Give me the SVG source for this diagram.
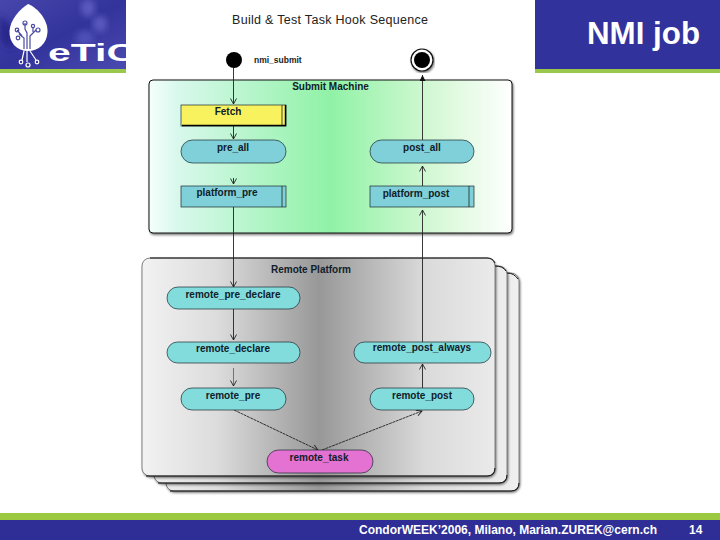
<svg xmlns="http://www.w3.org/2000/svg" width="720" height="540" viewBox="0 0 720 540">
<style>
text{font-family:"Liberation Sans",Arial,sans-serif}
.lbl{font-size:10px;font-weight:bold;fill:#10202a;text-anchor:middle}
.node{stroke:#1a2a30;stroke-width:.7}
.teal{fill:#7fd0d8}
.aqua{fill:#82dcdc}
.conn{fill:none;stroke:#222;stroke-width:.9}
.sheet{fill:url(#greyG);stroke:#555;stroke-width:.7;filter:url(#sh)}
.edge{fill:none;stroke:#111;stroke-width:1}
.ckt{fill:none;stroke:#4a4aa0;stroke-width:1.2}
.cktw{fill:none;stroke:#fff;stroke-width:1.2}
</style>
<defs>
<linearGradient id="hdr" x1="0" y1="0" x2="1" y2="1"><stop offset="0" stop-color="#4646ac"/><stop offset=".5" stop-color="#33339c"/><stop offset="1" stop-color="#4a4ab0"/></linearGradient>
<linearGradient id="greenG" x1="0" x2="1" y1="0" y2="0"><stop offset="0" stop-color="#f4fffc"/><stop offset=".08" stop-color="#d8f8ec"/><stop offset=".5" stop-color="#90f2a6"/><stop offset=".78" stop-color="#d4f8d4"/><stop offset="1" stop-color="#ffffff"/></linearGradient>
<linearGradient id="greyG" gradientUnits="userSpaceOnUse" x1="142" x2="519" y1="0" y2="0"><stop offset="0" stop-color="#f2f2f2"/><stop offset=".2" stop-color="#dcdcdc"/><stop offset=".47" stop-color="#989898"/><stop offset=".75" stop-color="#dadada"/><stop offset="1" stop-color="#f0f0f0"/></linearGradient>
<filter id="sh" x="-5%" y="-5%" width="110%" height="110%"><feDropShadow dx="1" dy="1.5" stdDeviation="1.2" flood-color="#000" flood-opacity=".55"/></filter>
<filter id="soft" x="-20%" y="-20%" width="140%" height="140%"><feGaussianBlur stdDeviation="3"/></filter>
<marker id="open" markerWidth="8" markerHeight="8" refX="6" refY="3.5" orient="auto" markerUnits="userSpaceOnUse"><path d="M.5 .5L6 3.5L.5 6.5" fill="none" stroke="#222" stroke-width=".9"/></marker>
<marker id="solid" markerWidth="8" markerHeight="8" refX="6" refY="3" orient="auto" markerUnits="userSpaceOnUse"><path d="M0 0L6 3L0 6Z" fill="#111"/></marker>
<clipPath id="logoClip"><rect x="0" y="0" width="126" height="69"/></clipPath>
</defs>

<rect width="720" height="540" fill="#fff"/>

<g id="header">
<rect x="0" y="0" width="126" height="69" fill="url(#hdr)"/>
<g clip-path="url(#logoClip)">
<ellipse cx="88" cy="8" rx="7" ry="9" fill="#5a5ac0" filter="url(#soft)"/>
<ellipse cx="100" cy="24" rx="7" ry="8" fill="#5a5ac0" filter="url(#soft)"/>
<ellipse cx="85" cy="38" rx="9" ry="7" fill="#5050b8" filter="url(#soft)"/>
<path d="M0 15L18 33L10 50L0 40Z" fill="#28288c" filter="url(#soft)"/>
</g>
<path d="M28 4C38 8 48 20 47.500 32C47 44 38 51 28 51C17 51 9 43 9.500 31C10 20 20 9 28 4Z" fill="#fff"/>
<path class="ckt" d="M27 49V33L25 29V23M30 49V36L36 30M24 49V38L19 34"/>
<path class="ckt" d="M33 32V27M22 36L17 30"/>
<circle class="ckt" cx="25" cy="23" r="2"/>
<circle class="ckt" cx="38" cy="30" r="2"/>
<circle class="ckt" cx="33" cy="26" r="1.600"/>
<circle class="ckt" cx="17" cy="30" r="1.800"/>
<circle class="ckt" cx="18" cy="38" r="1.800"/>
<path class="cktw" d="M27 51V62M30 51L36 60M24 51L22 60"/>
<circle class="cktw" cx="28" cy="65" r="2"/>
<circle class="cktw" cx="37" cy="62" r="1.800"/>
<circle class="cktw" cx="21" cy="62" r="1.800"/>
<text x="48" y="60.500" font-size="23" font-weight="bold" fill="#fff" clip-path="url(#logoClip)" textLength="88" lengthAdjust="spacingAndGlyphs">eTiC</text>
<rect x="0" y="69" width="126" height="4" fill="#9ac84c"/>
<rect x="535" y="0" width="185" height="69" fill="#32329c"/>
<rect x="535" y="69" width="185" height="4" fill="#9ac84c"/>
<text x="587" y="44" font-size="31" font-weight="bold" fill="#fff" textLength="113" lengthAdjust="spacingAndGlyphs">NMI job</text>
</g>

<g id="footer">
<rect x="0" y="513" width="720" height="7" fill="#9ac83e"/>
<rect x="0" y="520" width="720" height="20" fill="#2e2e96"/>
<text x="359" y="534" font-size="12" font-weight="bold" fill="#fff" textLength="298" lengthAdjust="spacing">CondorWEEK’2006, Milano, Marian.ZUREK@cern.ch</text>
<text x="689" y="534" font-size="12" font-weight="bold" fill="#fff">14</text>
</g>

<text id="title" x="330" y="24" font-size="12.500" fill="#222" text-anchor="middle" textLength="196">Build &amp; Test Task Hook Sequence</text>

<g id="remote-platform">
<rect class="sheet" x="166" y="273" width="353" height="218" rx="8"/>
<path class="edge" d="M170 491H511Q519 491 519 483M507 273Q514 273 518 279"/>
<rect class="sheet" x="154" y="266" width="353" height="217" rx="8"/>
<path class="edge" d="M158 483H499Q507 483 507 475M495 266Q503 266 506 271"/>
<rect class="sheet" x="142" y="258" width="353" height="218" rx="8"/>
<path class="edge" d="M146 476H487Q495 476 495 468M150 258H487Q493 258 495 263"/>
<text x="311" y="273" class="lbl">Remote Platform</text>
</g>

<g id="submit-machine">
<rect x="149" y="80" width="363" height="153" rx="4" fill="url(#greenG)" stroke="#111" stroke-width="1" filter="url(#sh)"/>
<text x="330.500" y="90" class="lbl">Submit Machine</text>
</g>

<g id="start"><circle cx="234" cy="60" r="8" fill="#000"/><text x="254" y="63" font-size="8.500" font-weight="bold" fill="#222">nmi_submit</text></g>
<g id="end"><circle cx="422" cy="60" r="11" fill="#fff" stroke="#111" stroke-width="1.200" filter="url(#sh)"/><circle cx="422" cy="60" r="8" fill="#000"/></g>

<g id="connectors">
<path class="conn" d="M233.500 68V104" marker-end="url(#open)"/>
<path class="conn" d="M233.500 126V139" marker-end="url(#open)"/>
<path class="conn" d="M233.500 178V184" marker-end="url(#open)"/>
<path class="conn" d="M233.500 207V287" marker-end="url(#open)"/>
<path class="conn" d="M233.500 309V340" marker-end="url(#open)"/>
<path class="conn" d="M233.500 368V386" marker-end="url(#open)" stroke-opacity=".6"/>
<path class="conn" d="M234 410L318 450" marker-end="url(#open)" stroke-dasharray="3 .6"/>
<path class="conn" d="M322 450L422 411" marker-end="url(#open)" stroke-dasharray="3 .6"/>
<path class="conn" d="M422.500 388V364" marker-end="url(#open)" stroke="#000" stroke-width="1"/>
<path class="conn" d="M422.500 342V210" marker-end="url(#open)" stroke="#000" stroke-width="1"/>
<path class="conn" d="M422.500 186V166" marker-end="url(#open)"/>
<path class="conn" d="M422.500 140V75" marker-end="url(#solid)" stroke="#000" stroke-width="1"/>
</g>

<g id="fetch"><rect class="node" x="181" y="105" width="105" height="21" fill="#f8f25e"/><path d="M182 125.500H285.500V105" fill="none" stroke="#000" stroke-width="1.400"/><path d="M282 105V125" stroke="#222" stroke-width=".8"/><text x="228" y="115" class="lbl">Fetch</text></g>
<g id="pre_all"><rect class="node teal" x="181" y="140" width="105" height="23" rx="11.500"/><text x="233" y="151" class="lbl">pre_all</text></g>
<g id="post_all"><rect class="node teal" x="370" y="140" width="104" height="23" rx="11.500"/><text x="422" y="151" class="lbl">post_all</text></g>
<g id="platform_pre"><rect class="node teal" x="181" y="186" width="105" height="21"/><path d="M282 186V207" stroke="#222" stroke-width=".8"/><text x="227" y="196" class="lbl">platform_pre</text></g>
<g id="platform_post"><rect class="node teal" x="370" y="186" width="104" height="21"/><path d="M469 186V207" stroke="#222" stroke-width=".8"/><text x="416" y="197" class="lbl">platform_post</text></g>

<g id="remote_pre_declare"><rect class="node aqua" x="167" y="287" width="133" height="22" rx="11"/><text x="233" y="298" class="lbl">remote_pre_declare</text></g>
<g id="remote_declare"><rect class="node aqua" x="167" y="342" width="133" height="21" rx="10.500"/><text x="233" y="352" class="lbl">remote_declare</text></g>
<g id="remote_post_always"><rect class="node aqua" x="354" y="342" width="137" height="21" rx="10.500"/><text x="422" y="351" class="lbl">remote_post_always</text></g>
<g id="remote_pre"><rect class="node aqua" x="181" y="388" width="105" height="22" rx="11"/><text x="233" y="399" class="lbl">remote_pre</text></g>
<g id="remote_post"><rect class="node aqua" x="370" y="388" width="104" height="22" rx="11"/><text x="422" y="399" class="lbl">remote_post</text></g>
<g id="remote_task"><rect class="node" x="267" y="450" width="106" height="23" rx="11.500" fill="#e472d2"/><text x="319" y="461" class="lbl">remote_task</text></g>
</svg>
